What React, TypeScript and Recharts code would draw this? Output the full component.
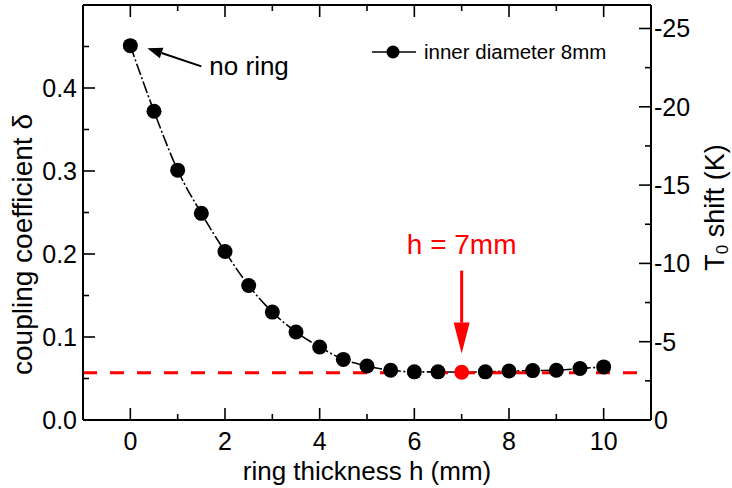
import React from 'react';
import {
  ComposedChart, Line, XAxis, YAxis, ReferenceLine, Legend,
} from 'recharts';

// ---- data ----
const thickness = [0, 0.5, 1, 1.5, 2, 2.5, 3, 3.5, 4, 4.5, 5, 5.5, 6, 6.5, 7, 7.5, 8, 8.5, 9, 9.5, 10];
const coupling = [0.451, 0.372, 0.301, 0.249, 0.203, 0.162, 0.130, 0.106, 0.088, 0.073, 0.065, 0.060, 0.058, 0.058, 0.0575, 0.058, 0.059, 0.0595, 0.060, 0.062, 0.064];
const highlightH = 7;
const thresholdCoupling = 0.057;

const xTicks = [0, 1, 2, 3, 4, 5, 6, 7, 8, 9, 10];
const leftTicks = [0, 0.05, 0.1, 0.15, 0.2, 0.25, 0.3, 0.35, 0.4, 0.45];
const rightTicks = [0, -2.5, -5, -7.5, -10, -12.5, -15, -17.5, -20, -22.5, -25];

const seriesName = 'inner diameter 8mm';
const noRingArrow = [{ x: 1.5, y: 0.426 }, { x: 0.36, y: 0.448 }];
const hArrow = [{ x: 7, y: 0.18 }, { x: 7, y: 0.08 }];

const data = thickness.map((h, i) => ({ h, delta: coupling[i] }));

const FONT = '"Liberation Sans", Arial, Helvetica, sans-serif';
const TICK_FS = 25;
const TITLE_FS = 26;
const MAJOR = 12;
const MINOR = 6;

const isMult = (v: number, step: number) => Math.abs(v / step - Math.round(v / step)) < 1e-6;

const BottomTick = (props: any) => {
  const { x, y, payload } = props;
  const v = payload.value;
  const major = isMult(v, 2);
  return (
    <g>
      <line x1={x} x2={x} y1={y} y2={y - (major ? MAJOR : MINOR)} stroke="#000" strokeWidth={1.6} />
      {major && (
        <text x={x} y={y + 21} textAnchor="middle" dominantBaseline="central" fontSize={TICK_FS} fontFamily={FONT} fill="#000">
          {v}
        </text>
      )}
    </g>
  );
};

const TopTick = (props: any) => {
  const { x, y, payload } = props;
  const major = isMult(payload.value, 2);
  return <line x1={x} x2={x} y1={y} y2={y + (major ? MAJOR : MINOR)} stroke="#000" strokeWidth={1.6} />;
};

const LeftTick = (props: any) => {
  const { x, y, payload } = props;
  const v = payload.value;
  const major = isMult(v, 0.1);
  return (
    <g>
      <line x1={x} x2={x + (major ? MAJOR : MINOR)} y1={y} y2={y} stroke="#000" strokeWidth={1.6} />
      {major && (
        <text x={x - 6} y={y} textAnchor="end" dominantBaseline="central" fontSize={TICK_FS} fontFamily={FONT} fill="#000">
          {v.toFixed(1)}
        </text>
      )}
    </g>
  );
};

const RightTick = (props: any) => {
  const { x, y, payload } = props;
  const v = payload.value;
  const major = isMult(v, 5);
  return (
    <g>
      <line x1={x} x2={x - (major ? MAJOR : MINOR)} y1={y} y2={y} stroke="#000" strokeWidth={1.6} />
      {major && (
        <text x={x + 3} y={y} textAnchor="start" dominantBaseline="central" fontSize={TICK_FS} fontFamily={FONT} fill="#000">
          {v}
        </text>
      )}
    </g>
  );
};

const LeftTitle = (props: any) => {
  const vb = props.viewBox;
  const cx = vb.x + 22;
  const cy = vb.y + vb.height / 2 + 32;
  return (
    <text x={cx} y={cy} transform={`rotate(-90 ${cx} ${cy})`} textAnchor="middle" dominantBaseline="central" fontSize={28} fontFamily={FONT} fill="#000">
      coupling coefficient δ
    </text>
  );
};

const RightTitle = (props: any) => {
  const vb = props.viewBox;
  const cx = vb.x + 64;
  const cy = vb.y + vb.height / 2 - 5;
  return (
    <text x={cx} y={cy} transform={`rotate(-90 ${cx} ${cy})`} textAnchor="middle" dominantBaseline="central" fontSize={27} fontFamily={FONT} fill="#000">
      T<tspan fontSize={17} dy={7}>0</tspan><tspan dy={-7}> shift (K)</tspan>
    </text>
  );
};

const BottomTitle = (props: any) => {
  const vb = props.viewBox;
  const cx = vb.x + vb.width / 2;
  const cy = vb.y + 51;
  return (
    <text x={cx} y={cy} textAnchor="middle" dominantBaseline="central" fontSize={TITLE_FS} fontFamily={FONT} fill="#000">
      ring thickness h (mm)
    </text>
  );
};

const Dot = (props: any) => {
  const { cx, cy, payload, index } = props;
  if (cx == null || cy == null) return <g key={`d${index}`} />;
  return <circle key={`d${index}`} cx={cx} cy={cy} r={7.5} fill={payload.h === highlightH ? '#ff0000' : '#000'} />;
};

const NoRingShape = (props: any) => {
  const { x1, y1, x2, y2 } = props;
  const ang = Math.atan2(y2 - y1, x2 - x1);
  const L = 15, W = 5.5;
  const bx = x2 - L * Math.cos(ang), by = y2 - L * Math.sin(ang);
  const px = -Math.sin(ang) * W, py = Math.cos(ang) * W;
  return (
    <g>
      <line x1={x1} y1={y1} x2={bx} y2={by} stroke="#000" strokeWidth={2} />
      <polygon points={`${x2},${y2} ${bx + px},${by + py} ${bx - px},${by - py}`} fill="#000" />
      <text x={x1 + 8} y={y1} dominantBaseline="central" fontSize={26} fontFamily={FONT} fill="#000">no ring</text>
    </g>
  );
};

const HArrowShape = (props: any) => {
  const { x1, y1, x2, y2 } = props;
  const L = 31, W = 8;
  return (
    <g>
      <line x1={x1} y1={y1} x2={x2} y2={y2 - L} stroke="#ff0000" strokeWidth={3} />
      <polygon points={`${x2},${y2} ${x2 - W},${y2 - L} ${x2 + W},${y2 - L}`} fill="#ff0000" />
      <text x={x1} y={y1 - 26} textAnchor="middle" dominantBaseline="central" fontSize={28} fontFamily={FONT} fill="#ff0000">h = 7mm</text>
    </g>
  );
};

const LegendContent = () => (
  <div style={{ display: 'flex', alignItems: 'center', fontFamily: FONT, fontSize: 20.5, color: '#000', whiteSpace: 'nowrap' }}>
    <svg width={48} height={20} style={{ display: 'block' }}>
      <line x1={2} x2={46} y1={10} y2={10} stroke="#000" strokeWidth={1.6} />
      <circle cx={23} cy={10} r={6.5} fill="#000" />
    </svg>
    <span style={{ marginLeft: 6 }}>{seriesName}</span>
  </div>
);

export default function App() {
  return (
    <div style={{ position: 'fixed', left: 0, top: 0, background: '#fff', fontFamily: FONT }}>
      <ComposedChart width={732} height={488} data={data} margin={{ top: 4, right: 0, bottom: 0, left: 0 }}>
        <XAxis
          xAxisId="bottom" dataKey="h" type="number" domain={[-1, 11]} ticks={xTicks} interval={0}
          height={68} tickSize={0} tickMargin={0} tick={BottomTick} tickLine={false}
          axisLine={{ stroke: '#000', strokeWidth: 2 }} allowDataOverflow
          label={{ content: BottomTitle } as any}
        />
        <XAxis
          xAxisId="top" orientation="top" dataKey="h" type="number" domain={[-1, 11]} ticks={xTicks} interval={0}
          height={1} tickSize={0} tickMargin={0} tick={TopTick} tickLine={false}
          axisLine={{ stroke: '#000', strokeWidth: 2 }} allowDataOverflow
        />
        <YAxis
          yAxisId="left" type="number" domain={[0, 0.5]} ticks={leftTicks} interval={0} width={83}
          tickSize={0} tickMargin={0} tick={LeftTick} tickLine={false}
          axisLine={{ stroke: '#000', strokeWidth: 2 }} allowDataOverflow
          label={{ content: LeftTitle } as any}
        />
        <YAxis
          yAxisId="right" orientation="right" type="number" domain={[-26.5, 0]} reversed ticks={rightTicks} interval={0} width={81}
          tickSize={0} tickMargin={0} tick={RightTick} tickLine={false}
          axisLine={{ stroke: '#000', strokeWidth: 2 }} allowDataOverflow
          label={{ content: RightTitle } as any}
        />
        <Legend
          layout="vertical" align="center" verticalAlign="middle"
          content={LegendContent}
          wrapperStyle={{ left: 370, top: 40, width: 'auto', height: 'auto' }}
        />
        <Line
          xAxisId="bottom" yAxisId="left" dataKey="delta" name={seriesName} type="monotone"
          stroke="#000" strokeWidth={1.6} strokeDasharray="12 2.5 2 2.5" dot={Dot} activeDot={false}
          isAnimationActive={false}
        />
        <ReferenceLine
          xAxisId="bottom" yAxisId="left" y={thresholdCoupling}
          stroke="#ff0000" strokeWidth={3} strokeDasharray="14 13"
        />
        <ReferenceLine
          xAxisId="bottom" yAxisId="left" segment={noRingArrow} shape={NoRingShape}
        />
        <ReferenceLine
          xAxisId="bottom" yAxisId="left" segment={hArrow} shape={HArrowShape}
        />
      </ComposedChart>
    </div>
  );
}
